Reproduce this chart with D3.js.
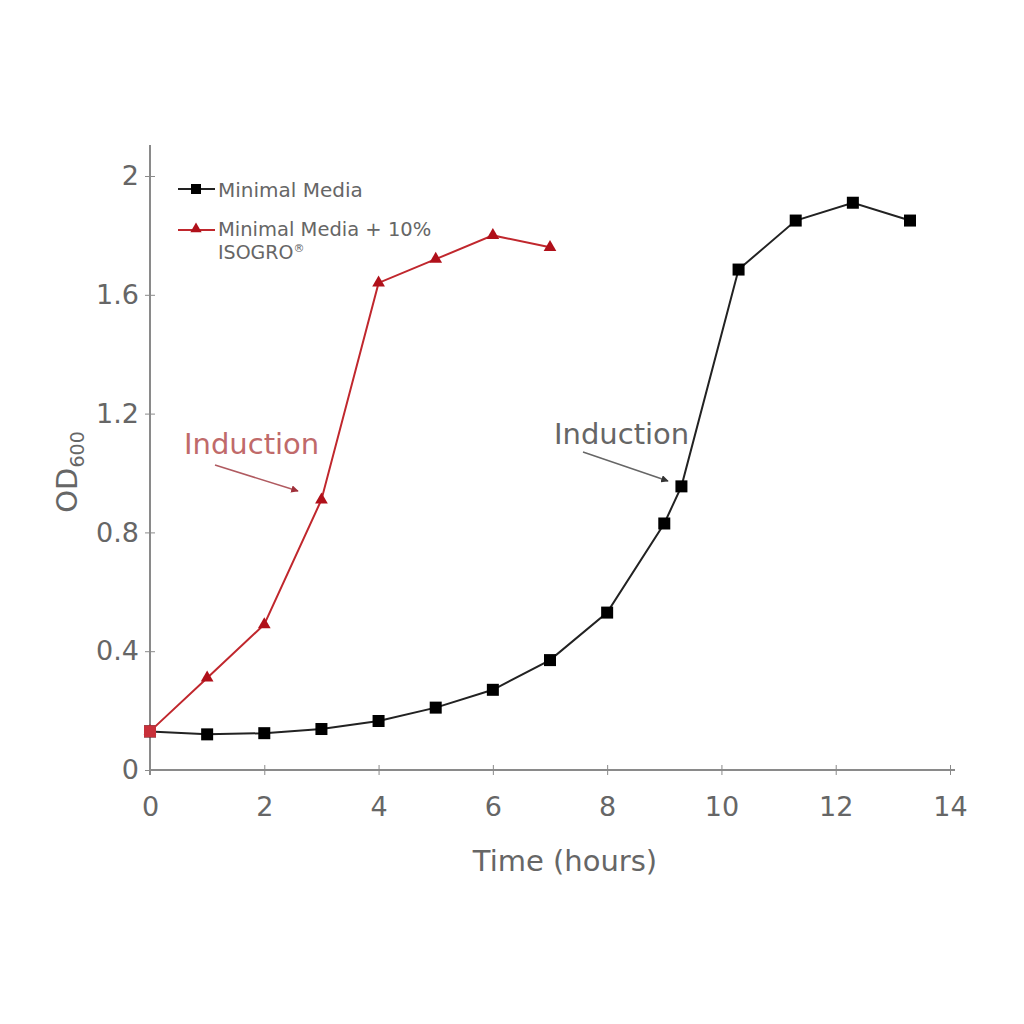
<!DOCTYPE html>
<html>
<head>
<meta charset="utf-8">
<script src="https://cdn.jsdelivr.net/npm/d3@7"></script>
<style>
  body { margin: 0; background: #fff; }
</style>
</head>
<body>
<div class="grafico"></div>
<script>
// Minimal Media
const hoursMin = [0, 1, 2, 3, 4, 5, 6, 7, 8, 9, 9.3, 10.3, 11.3, 12.3, 13.3]
const odMin = [0.13, 0.12, 0.124, 0.138, 0.165, 0.21, 0.27, 0.37, 0.53, 0.83, 0.955, 1.685, 1.85, 1.91, 1.85]

// Minimal Media + 10% ISOGRO
const hoursIso = [0, 1, 2, 3, 4, 5, 6, 7]
const odIso = [0.13, 0.31, 0.49, 0.91, 1.64, 1.72, 1.80, 1.76]

const xTicks = [0, 2, 4, 6, 8, 10, 12, 14]
const yTicks = [0, 0.4, 0.8, 1.2, 1.6, 2]

const w = 1024
const h = 1024
const font = '"DejaVu Sans", Verdana, sans-serif'

const xScale = d3.scaleLinear().domain([0, 14]).range([150, 950])
const yScale = d3.scaleLinear().domain([0, 2]).range([770, 176])

const svg = d3.select('.grafico')
  .append('svg')
  .attr('width', w)
  .attr('height', h)
  .style('font-family', font)

/*Ejes*/
const xAxis = d3.axisBottom(xScale)
  .tickValues(xTicks)
  .tickSize(0)
  .tickPadding(27)
  .tickFormat(d3.format('d'))

const yAxis = d3.axisLeft(yScale)
  .tickValues(yTicks)
  .tickSize(0)
  .tickPadding(11)
  .tickFormat(d => d === 0 || d === 2 ? d : d3.format('.1f')(d))

const gx = svg.append('g')
  .attr('transform', `translate(0,770)`)
  .call(xAxis)
gx.select('.domain').remove()
gx.append('line').attr('x1', 150).attr('x2', 955).attr('stroke', '#8a8a8a').attr('stroke-width', 2)
gx.selectAll('.tick').append('line').attr('y1', -5).attr('y2', 5).attr('stroke', '#8a8a8a')

const gy = svg.append('g')
  .attr('transform', `translate(150,0)`)
  .call(yAxis)
gy.select('.domain').remove()
gy.append('line').attr('y1', 145).attr('y2', 775).attr('stroke', '#8a8a8a').attr('stroke-width', 2)
gy.selectAll('.tick').append('line').attr('x1', -5).attr('x2', 5).attr('stroke', '#8a8a8a')

svg.selectAll('g').attr('font-family', null)
svg.selectAll('.tick text')
  .attr('fill', '#666')
  .style('font-family', font)
  .style('font-size', '27px')

/*Títulos de ejes*/
svg.append('text')
  .attr('x', 565)
  .attr('y', 871)
  .attr('text-anchor', 'middle')
  .attr('fill', '#666')
  .style('font-size', '29px')
  .text('Time (hours)')

const yl = svg.append('text')
  .attr('transform', 'translate(77,472) rotate(-90)')
  .attr('text-anchor', 'middle')
  .attr('fill', '#666')
  .style('font-size', '29px')
yl.append('tspan').text('OD')
yl.append('tspan').attr('dy', 7).style('font-size', '19px').text('600')

/*Líneas*/
const line = d3.line()
  .x(d => xScale(d[0]))
  .y(d => yScale(d[1]))

const minData = hoursMin.map((t, i) => [t, odMin[i]])
const isoData = hoursIso.map((t, i) => [t, odIso[i]])

svg.append('path')
  .datum(minData)
  .attr('d', line)
  .attr('fill', 'none')
  .attr('stroke', '#222')
  .attr('stroke-width', 2)

svg.selectAll('.sq')
  .data(minData)
  .enter()
  .append('rect')
  .attr('x', d => xScale(d[0]) - 6)
  .attr('y', d => yScale(d[1]) - 6)
  .attr('width', 12)
  .attr('height', 12)
  .attr('fill', '#000')

svg.append('path')
  .datum(isoData)
  .attr('d', line)
  .attr('fill', 'none')
  .attr('stroke', '#c0272d')
  .attr('stroke-width', 2)

const tri = d3.symbol().type(d3.symbolTriangle).size(70)
svg.selectAll('.tri')
  .data(isoData)
  .enter()
  .append('path')
  .attr('d', tri)
  .attr('transform', d => `translate(${xScale(d[0])},${yScale(d[1])})`)
  .attr('fill', '#b0101a')

// el primer punto se superpone en rojo
svg.append('rect')
  .attr('x', xScale(0) - 6)
  .attr('y', yScale(odMin[0]) - 6)
  .attr('width', 12)
  .attr('height', 12)
  .attr('fill', '#c8303a')

/*Leyenda*/
const legend = svg.append('g')
legend.append('line').attr('x1', 178).attr('x2', 215).attr('y1', 189).attr('y2', 189).attr('stroke', '#222').attr('stroke-width', 2)
legend.append('rect').attr('x', 191).attr('y', 184).attr('width', 10).attr('height', 10).attr('fill', '#000')
legend.append('text').attr('x', 218).attr('y', 197).attr('fill', '#666').style('font-size', '20px').text('Minimal Media')

legend.append('line').attr('x1', 178).attr('x2', 215).attr('y1', 230).attr('y2', 230).attr('stroke', '#c0272d').attr('stroke-width', 2)
legend.append('path').attr('d', d3.symbol().type(d3.symbolTriangle).size(55)).attr('transform', 'translate(196,229)').attr('fill', '#b0101a')
legend.append('text').attr('x', 218).attr('y', 236).attr('fill', '#666').style('font-size', '19.5px').text('Minimal Media + 10%')
const iso = legend.append('text').attr('x', 218).attr('y', 259).attr('fill', '#666').style('font-size', '19px')
iso.append('tspan').text('ISOGRO')
iso.append('tspan').attr('dy', -7).style('font-size', '11px').text('®')

/*Anotaciones*/
const defs = svg.append('defs')
const mk = (id, color) => defs.append('marker')
  .attr('id', id)
  .attr('viewBox', '0 0 10 10')
  .attr('refX', 9).attr('refY', 5)
  .attr('markerWidth', 5).attr('markerHeight', 5)
  .attr('orient', 'auto')
  .append('path').attr('d', 'M0,0L10,5L0,10Z').attr('fill', color)
mk('arrR', '#a0303a')
mk('arrK', '#333')

svg.append('text')
  .attr('x', 184).attr('y', 454)
  .attr('fill', '#c06a6a')
  .style('font-size', '29px')
  .text('Induction')
svg.append('line')
  .attr('x1', 215).attr('y1', 465).attr('x2', 298).attr('y2', 491)
  .attr('stroke', '#b05a60').attr('stroke-width', 1.5)
  .attr('marker-end', 'url(#arrR)')

svg.append('text')
  .attr('x', 554).attr('y', 444)
  .attr('fill', '#666')
  .style('font-size', '29px')
  .text('Induction')
svg.append('line')
  .attr('x1', 583).attr('y1', 452).attr('x2', 668).attr('y2', 481)
  .attr('stroke', '#666').attr('stroke-width', 1.5)
  .attr('marker-end', 'url(#arrK)')
</script>
</body>
</html>
